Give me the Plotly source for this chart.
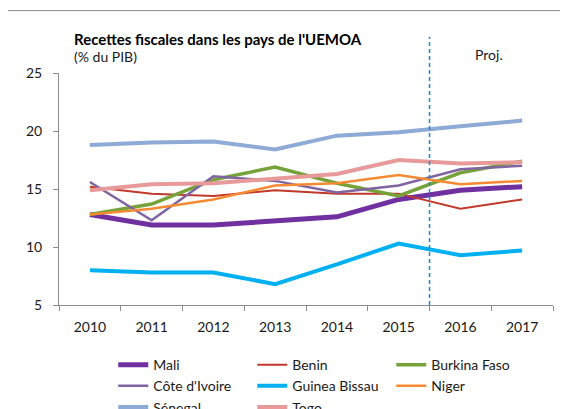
import plotly.graph_objects as go

years = ["2010", "2011", "2012", "2013", "2014", "2015", "2016", "2017"]

mali = [12.8, 11.9, 11.9, 12.3, 12.6, 14.1, 14.9, 15.2]
benin = [15.2, 14.6, 14.4, 14.9, 14.6, 14.6, 13.3, 14.1]
burkina = [12.8, 13.7, 15.8, 16.9, 15.5, 14.4, 16.4, 17.4]
cote_ivoire = [15.6, 12.3, 16.1, 15.7, 14.7, 15.3, 16.7, 17.0]
guinea_bissau = [8.0, 7.8, 7.8, 6.8, 8.5, 10.3, 9.3, 9.7]
niger = [12.8, 13.3, 14.1, 15.3, 15.5, 16.2, 15.4, 15.7]
senegal = [18.8, 19.0, 19.1, 18.4, 19.6, 19.9, 20.4, 20.9]
togo = [14.9, 15.4, 15.5, 15.9, 16.3, 17.5, 17.2, 17.3]

series_names = ["Mali", "Benin", "Burkina Faso", "Côte d'Ivoire", "Guinea Bissau", "Niger", "Sénegal", "Togo"]
series_values = [mali, benin, burkina, cote_ivoire, guinea_bissau, niger, senegal, togo]
series_colors = ["#7030A0", "#C0392B", "#77A23A", "#8064A2", "#00B0F0", "#F68A33", "#8EAAD6", "#E89A9A"]
series_widths = [5, 2, 3.5, 2.5, 4, 2.5, 4, 4]

FONT = "Lato"

fig = go.Figure()
for name, vals, col, w in zip(series_names, series_values, series_colors, series_widths):
    fig.add_trace(go.Scatter(x=years, y=vals, mode="lines", name=name,
                             line=dict(color=col, width=w)))

# page offset (default body margin) and figure size
OFF = 8
FW, FH = 560, 401
# plot area in screenshot px: x 58.7..553, y 73.3..305
L = 58.7 - OFF
T = 73.3 - OFF
R = FW - (553 - OFF)
B = FH - (305 - OFF)
W = FW - L - R
H = FH - T - B

def px_x(x):
    return (x - OFF - L) / W

def px_y(y):
    return (FH - B - (y - OFF)) / H

fig.update_layout(
    width=FW, height=FH,
    margin=dict(l=L, r=R, t=T, b=B, pad=0, autoexpand=False),
    paper_bgcolor="white", plot_bgcolor="white",
    font=dict(family=FONT, size=14, color="#1a1a1a"),
    showlegend=True,
    legend=dict(orientation="h", x=px_x(113), y=px_y(349), xanchor="left", yanchor="top",
                entrywidth=94, entrywidthmode="pixels", traceorder="normal",
                font=dict(family=FONT, size=14, color="#1a1a1a"), tracegroupgap=0,
                bgcolor="rgba(0,0,0,0)"),
    xaxis=dict(type="category", range=[-0.5, 7.5], showgrid=False, showline=True,
               linecolor="#8c8c8c", linewidth=1, ticks="outside", ticklen=5,
               tickcolor="#8c8c8c", tickson="boundaries", zeroline=False,
               tickfont=dict(family=FONT, size=14), ticklabelstandoff=9),
    yaxis=dict(range=[5, 25], tickvals=[5, 10, 15, 20, 25], showgrid=False, showline=True,
               linecolor="#8c8c8c", linewidth=1, ticks="outside", ticklen=5,
               tickcolor="#8c8c8c", zeroline=False,
               tickfont=dict(family=FONT, size=14), ticklabelstandoff=8),
    shapes=[
        dict(type="rect", xref="paper", yref="paper", x0=px_x(7), x1=px_x(620),
             y0=px_y(460), y1=px_y(11), line=dict(color="#8c8c8c", width=1),
             fillcolor="rgba(0,0,0,0)", layer="below"),
        dict(type="line", xref="x", yref="paper", x0=5.5, x1=5.5, y0=0, y1=px_y(37),
             line=dict(color="#1f86d0", width=1.5, dash="4px,3px")),
    ],
    annotations=[
        dict(text="<b>Recettes fiscales dans les pays de l'UEMOA</b>", xref="paper", yref="paper",
             x=px_x(72), y=px_y(39), xanchor="left", yanchor="middle", showarrow=False,
             font=dict(family=FONT, size=15, color="#000")),
        dict(text="(% du PIB)", xref="paper", yref="paper",
             x=px_x(72), y=px_y(57), xanchor="left", yanchor="middle", showarrow=False,
             font=dict(family=FONT, size=14, color="#1a1a1a")),
        dict(text="Proj.", xref="paper", yref="paper",
             x=px_x(489), y=px_y(55), xanchor="center", yanchor="middle", showarrow=False,
             font=dict(family=FONT, size=14, color="#1a1a1a")),
    ],
)

fig.write_html("out.html")
